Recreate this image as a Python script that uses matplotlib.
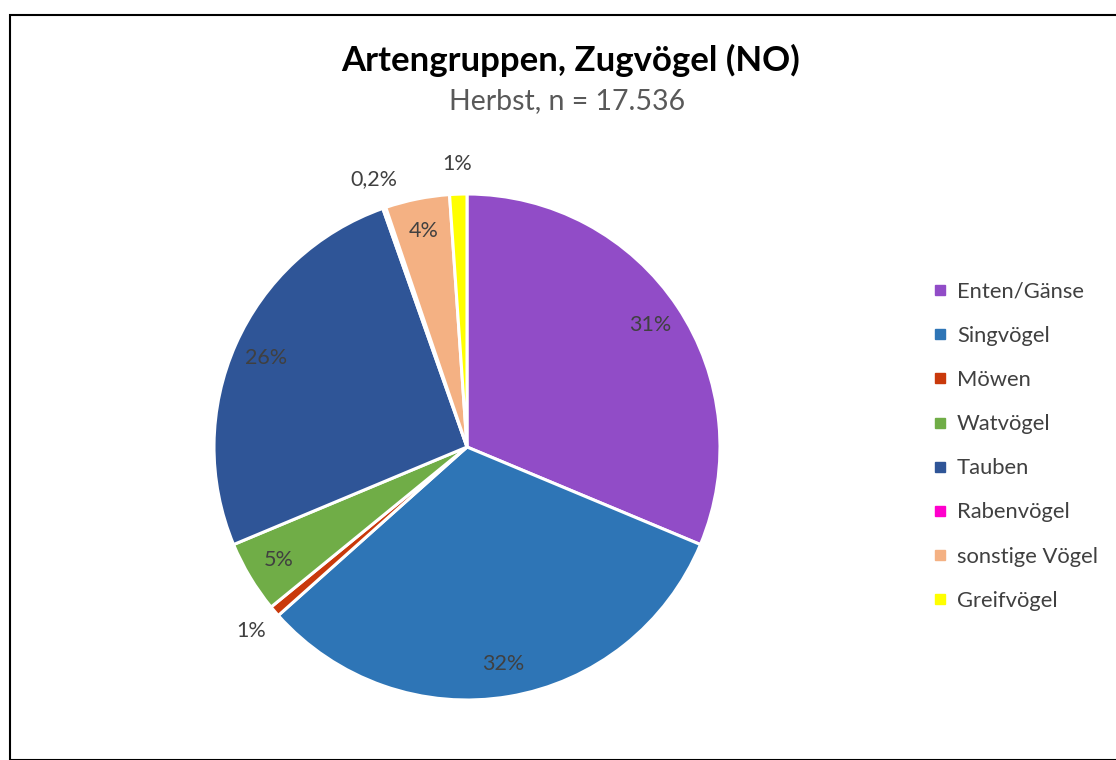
import numpy as np
import matplotlib.pyplot as plt
from matplotlib.lines import Line2D
from matplotlib.patches import Rectangle

plt.rcParams['font.family'] = ['Lato', 'DejaVu Sans']

# data (shares in percent)
groups = ['Enten/Gänse', 'Singvögel', 'Möwen', 'Watvögel', 'Tauben',
          'Rabenvögel', 'sonstige Vögel', 'Greifvögel']
shares = [31.3, 32.1, 0.7, 4.6, 25.9, 0.2, 4.1, 1.1]
labels = ['31%', '32%', '1%', '5%', '26%', '0,2%', '4%', '1%']
outside = [False, False, True, False, False, True, False, True]
colors = ['#914CC7', '#2E75B6', '#C9390B', '#70AD47', '#2F5597',
          '#FF00CC', '#F4B183', '#FFFF00']

W, H = 1116, 760
fig = plt.figure(figsize=(W / 100, H / 100), dpi=100)

# chart area frame
fig.patches.append(Rectangle((10 / W, 0), 1.2, 1 - 15 / H, transform=fig.transFigure,
                             fill=False, edgecolor='black', linewidth=1.5))

cx, cy, r = 467, 447, 253
ax = fig.add_axes([(cx - r) / W, (H - cy - r) / H, 2 * r / W, 2 * r / H])
wedges, _ = ax.pie(shares, colors=colors, startangle=90, counterclock=False,
                   wedgeprops=dict(edgecolor='white', linewidth=2.2))
ax.set_xlim(-1, 1)
ax.set_ylim(-1, 1)
ax.set_aspect('equal')
ax.axis('off')

for w, lab, out in zip(wedges, labels, outside):
    mid = np.deg2rad((w.theta1 + w.theta2) / 2)
    d = 1.12 if out else 0.87
    ax.text(d * np.cos(mid), d * np.sin(mid), lab, ha='center', va='center',
            fontsize=15.5, color='#404040', clip_on=False)

fig.text(571 / W, 1 - 60 / H, 'Artengruppen, Zugvögel (NO)', ha='center', va='center',
         fontsize=25, fontweight='bold', color='black')
fig.text(567 / W, 1 - 101 / H, 'Herbst, n = 17.536', ha='center', va='center',
         fontsize=20.5, color='#595959')

handles = [Line2D([], [], marker='s', linestyle='none', markersize=7,
                  markerfacecolor=c, markeredgecolor=c) for c in colors]
fig.legend(handles, groups, loc='upper left', bbox_to_anchor=(925 / W, 1 - 273 / H),
           frameon=False, fontsize=15.8, labelcolor='#404040', handlelength=0.6,
           handletextpad=0.45, labelspacing=1.1, borderaxespad=0)

fig.savefig('out.png', dpi=100)
